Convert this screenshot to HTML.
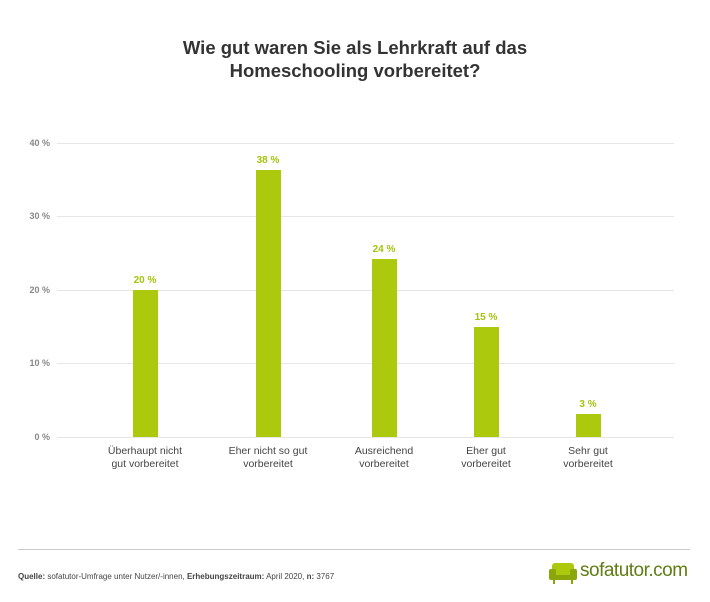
<!DOCTYPE html>
<html><head><meta charset="utf-8"><style>
body{margin:0;background:#fff;width:710px;height:602px;position:relative;font-family:"Liberation Sans",sans-serif;overflow:hidden}
.t{position:absolute;left:0;width:710px;text-align:center;top:36px;font-size:18.5px;font-weight:bold;color:#333;line-height:23px}
.g{position:absolute;left:57px;width:617px;height:1px;background:#e6e6e6}
.yl{position:absolute;left:20px;width:30px;text-align:right;font-size:9px;color:#888;font-weight:bold}
.b{position:absolute;width:25px;background:#adc90e}
.v{position:absolute;width:60px;text-align:center;font-size:10px;font-weight:bold;color:#a6c20c}
.xl{position:absolute;width:120px;text-align:center;font-size:10.5px;color:#444;line-height:13px;top:445px}
</style></head><body>
<div class="t">Wie gut waren Sie als Lehrkraft auf das<br>Homeschooling vorbereitet?</div>
<div class="g" style="top:143px"></div><div class="g" style="top:216px"></div><div class="g" style="top:290px"></div><div class="g" style="top:363px"></div><div class="g" style="top:437px"></div>
<div class="yl" style="top:138px">40 %</div><div class="yl" style="top:211px">30 %</div><div class="yl" style="top:285px">20 %</div><div class="yl" style="top:358px">10 %</div><div class="yl" style="top:432px">0 %</div>
<div class="b" style="left:133px;top:290px;height:147px"></div>
<div class="b" style="left:256px;top:170px;height:267px"></div>
<div class="b" style="left:372px;top:259px;height:178px"></div>
<div class="b" style="left:474px;top:327px;height:110px"></div>
<div class="b" style="left:576px;top:414px;height:23px"></div>
<div class="v" style="left:115px;top:275px">20 %</div>
<div class="v" style="left:238px;top:155px">38 %</div>
<div class="v" style="left:354px;top:244px">24 %</div>
<div class="v" style="left:456px;top:312px">15 %</div>
<div class="v" style="left:558px;top:399px">3 %</div>
<div class="xl" style="left:85px">Überhaupt nicht<br>gut vorbereitet</div>
<div class="xl" style="left:208px">Eher nicht so gut<br>vorbereitet</div>
<div class="xl" style="left:324px">Ausreichend<br>vorbereitet</div>
<div class="xl" style="left:426px">Eher gut<br>vorbereitet</div>
<div class="xl" style="left:528px">Sehr gut<br>vorbereitet</div>
<div style="position:absolute;left:18px;top:549px;width:672px;height:1px;background:#ccc"></div>
<div style="position:absolute;left:18px;top:572px;font-size:8px;color:#444"><b>Quelle:</b> sofatutor-Umfrage unter Nutzer/-innen, <b>Erhebungszeitraum:</b> April 2020, <b>n:</b> 3767</div>
<svg style="position:absolute;left:549px;top:561px" width="28" height="24" viewBox="0 0 28 24"><rect x="3" y="2" width="22" height="14" rx="3" fill="#adc90e"/><rect x="0" y="8" width="7" height="11" rx="2" fill="#8aa60a"/><rect x="21" y="8" width="7" height="11" rx="2" fill="#8aa60a"/><rect x="5" y="14" width="18" height="5" fill="#8aa60a"/><rect x="4" y="19" width="2" height="4" fill="#8aa60a"/><rect x="22" y="19" width="2" height="4" fill="#8aa60a"/></svg>
<div style="position:absolute;left:580px;top:560px;font-size:19px;color:#5f7d12;letter-spacing:-0.5px">sofatutor.com</div>
</body></html>
